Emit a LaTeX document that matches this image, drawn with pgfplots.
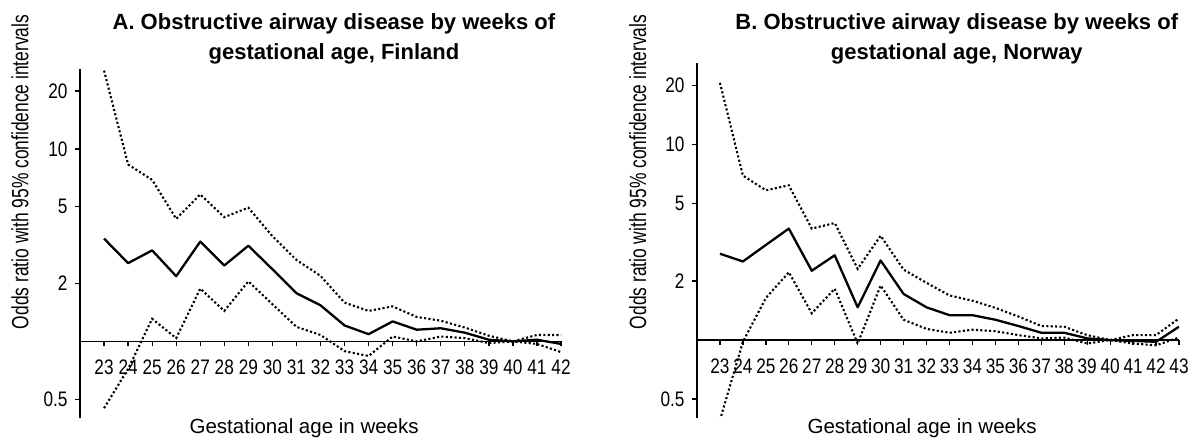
\documentclass[border=0pt]{standalone}
\usepackage{fontspec}
\setmainfont{Liberation Sans}
\newfontfamily\narrowsans{Liberation Sans}[FakeStretch=0.82]
\newfontfamily\condsans{Liberation Sans}[FakeStretch=0.74]
\usepackage{pgfplots}
\usepackage{pgfplotstable}
\pgfplotsset{compat=1.18}

% week, odds ratio, lower and upper 95% CI
\pgfplotstableread{
w  or   lo   hi
23 3.42 0.45 25.5
24 2.55 0.72 8.3
25 2.97 1.31 6.9
26 2.18 1.04 4.33
27 3.30 1.88 5.8
28 2.48 1.44 4.42
29 3.14 2.05 4.95
30 2.37 1.56 3.52
31 1.78 1.19 2.65
32 1.54 1.08 2.19
33 1.21 0.89 1.59
34 1.09 0.84 1.44
35 1.27 1.06 1.52
36 1.15 1.00 1.34
37 1.17 1.06 1.28
38 1.11 1.04 1.18
39 1.02 0.98 1.07
40 1.00 1.00 1.00
41 1.02 0.97 1.08
42 0.97 0.88 1.08
}\finland

\pgfplotstableread{
w  or   lo   hi
23 2.76 0.39 20.6
24 2.52 0.98 6.92
25 3.06 1.64 5.82
26 3.71 2.22 6.17
27 2.26 1.37 3.71
28 2.71 1.83 3.96
29 1.47 0.96 2.31
30 2.55 1.90 3.41
31 1.72 1.27 2.29
32 1.47 1.14 1.96
33 1.34 1.09 1.69
34 1.34 1.13 1.59
35 1.27 1.11 1.46
36 1.18 1.06 1.32
37 1.09 1.02 1.18
38 1.09 1.03 1.17
39 1.02 0.96 1.06
40 1.00 1.00 1.00
41 0.99 0.96 1.06
42 0.98 0.94 1.06
43 1.17 1.03 1.29
}\norway

\pgfplotsset{
  orpanel/.style={
    scale only axis,
    anchor=south west,
    xmin=22,
    ymin=0.4, ymax=26,
    axis x line*=middle,
    axis y line*=left,
    axis line style={line width=1.5pt},
    tick style={black, line width=1.3pt},
    tick align=outside,
    major tick length=5pt,
    ytick={0.5,2,5,10,20},
    yticklabels={0.5,2,5,10,20},
    tick label style={font=\narrowsans\fontsize{21}{23}\selectfont},
    xticklabel style={yshift=-10pt},
    yticklabel style={xshift=-4pt},
    xlabel style={font=\fontsize{20.5}{22}\selectfont},
    ylabel style={font=\condsans\fontsize{23.5}{25}\selectfont},
    xlabel={Gestational age in weeks},
    ylabel={Odds ratio with 95\% confidence intervals},
    title style={font=\bfseries\fontsize{22}{30}\selectfont, align=center,
                 anchor=south, inner sep=0pt},
  },
  est/.style={black, line width=2.3pt, line join=round},
  ci/.style={black, line width=2.1pt, dash pattern=on 2.1pt off 2.3pt}
}

\begin{document}
\begin{tikzpicture}
\useasboundingbox (0,0) rectangle (1196pt,446pt);

\begin{axis}[ymode=log, orpanel,
  /pgf/number format/assume math mode=true,
  at={(80pt,28pt)}, width=481pt, height=349pt,
  xmax=42, xtick={23,...,42},
  title={A. Obstructive airway disease by weeks of\\gestational age, Finland},
  title style={at={(axis description cs:0.528,1)}, yshift=-1pt},
  ylabel style={at={(axis description cs:-0.125,0.705)}, anchor=center},
  xlabel style={at={(axis description cs:0.466,-0.03)}, anchor=center},
]
\addplot[ci] table[x=w, y=hi] {\finland};
\addplot[ci] table[x=w, y=lo] {\finland};
\addplot[est] table[x=w, y=or] {\finland};
\end{axis}

\begin{axis}[ymode=log, orpanel,
  /pgf/number format/assume math mode=true,
  at={(697pt,28pt)}, width=482pt, height=355pt,
  xmax=43, xtick={23,...,43},
  title={B. Obstructive airway disease by weeks of\\gestational age, Norway},
  title style={at={(axis description cs:0.539,1)}, yshift=-7pt},
  ylabel style={at={(axis description cs:-0.123,0.693)}, anchor=center},
  xlabel style={at={(axis description cs:0.467,-0.03)}, anchor=center},
]
\addplot[ci] table[x=w, y=hi] {\norway};
\addplot[ci] table[x=w, y=lo] {\norway};
\addplot[est] table[x=w, y=or] {\norway};
\end{axis}
\end{tikzpicture}
\end{document}
